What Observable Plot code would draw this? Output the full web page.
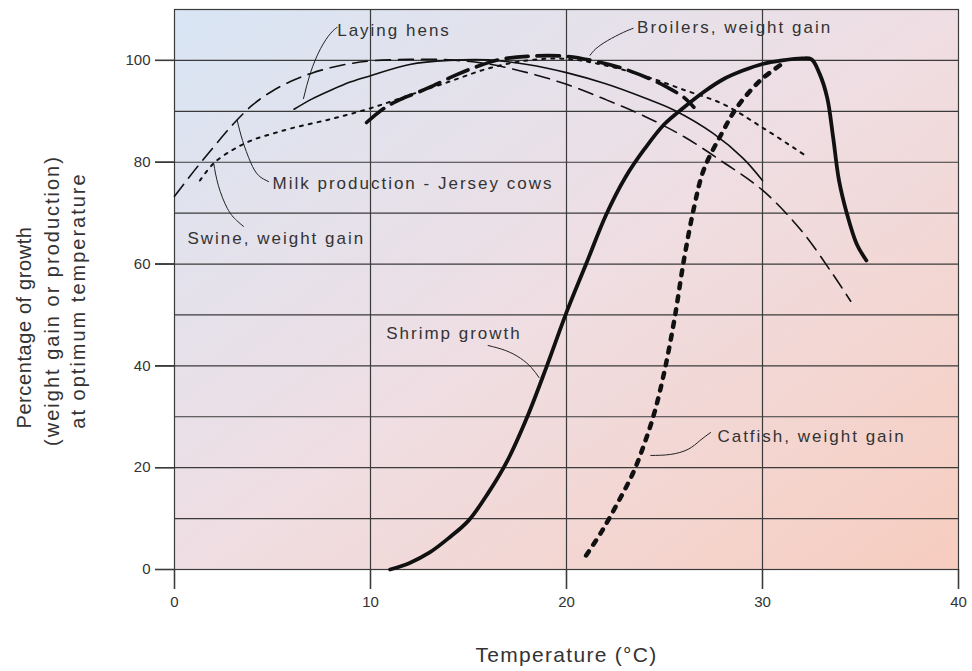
<!DOCTYPE html>
<html><head><meta charset="utf-8">
<script src="https://cdn.jsdelivr.net/npm/d3@7"></script>
<script src="https://cdn.jsdelivr.net/npm/@observablehq/plot@0.6"></script>
<style>body{margin:0;background:#fff;}</style>
</head><body><div id="chart"></div>
<script>
// ---- axes ----
const xTicks = [0, 10, 20, 30, 40];
const yTicks = [0, 20, 40, 60, 80, 100];
const xGrid = [10, 20, 30];
const yGrid = [10, 20, 30, 40, 50, 60, 70, 80, 90, 100];

// ---- series (temperature °C, % of growth) ----
const milkX = [0, 1, 2, 3, 4, 5, 6, 7, 8, 9, 10, 12, 14, 16, 18, 20, 22, 24, 26, 28, 30, 32, 33.5, 34.5];
const milkY = [73.3, 78.3, 83, 87.5, 91.3, 94, 96, 97.5, 98.6, 99.4, 99.9, 100.2, 100.1, 99.3, 97.6, 95.3, 92.3, 89, 85, 80, 74.5, 66.5, 58.5, 52.7];

const hensX = [6.1, 7, 8, 9, 10, 12, 14, 16, 18, 20, 22, 24, 25.5, 27.5, 29, 30];
const hensY = [90.4, 92.4, 94.2, 95.8, 97, 99.2, 100, 100.1, 99.2, 97.6, 95.4, 92.6, 90.2, 85.6, 80.8, 76.4];

const broilX = [9.8, 10.7, 11.5, 12.4, 13, 14.4, 15.3, 16.5, 18, 20, 21.5, 22.8, 24.3, 25.2, 26, 26.5];
const broilY = [87.8, 90.6, 92.3, 93.7, 94.7, 97.2, 98.6, 100.1, 100.8, 100.8, 99.8, 98.5, 96.3, 94.6, 92.7, 90.8];

const swineX = [1.3, 2, 3, 4, 5, 6, 8, 10, 12, 14, 16, 18, 20, 22, 24, 26, 28, 30, 32.2];
const swineY = [76.4, 79.8, 82.5, 84.4, 85.6, 86.7, 88.5, 90.6, 93.2, 95.8, 98.4, 100, 100.3, 99, 96.9, 94.2, 91.4, 86.8, 81.3];

const shrimpX = [11, 12, 13, 14, 15, 16, 17, 18, 19, 20, 21, 22, 23, 24, 25, 26, 27, 28, 29, 30, 31, 32, 32.5, 32.9, 33.3, 33.6, 33.9, 34.3, 34.8, 35.3];
const shrimpY = [0, 1.3, 3.3, 6.2, 9.6, 15, 21.5, 30, 40, 50.5, 60, 69.5, 77, 82.7, 87.5, 90.8, 93.8, 96.3, 98, 99.3, 100, 100.4, 100.2, 97.5, 92.7, 85, 76.5, 70, 64, 60.7];

const catX = [21, 21.8, 22.6, 23.4, 24, 24.5, 25, 25.5, 26, 26.5, 27, 27.9, 28.7, 29.9, 31.1];
const catY = [2.75, 7.5, 13, 19, 25, 31, 39, 49, 61, 71, 78.5, 85.5, 90.8, 96.1, 99.6];

// ---- annotations ----
const labelText = ["Laying hens", "Broilers, weight gain", "Milk production - Jersey cows", "Swine, weight gain", "Shrimp growth", "Catfish, weight gain"];
const labelX = [8.3, 23.6, 5.0, 0.66, 10.8, 27.7];
const labelY = [105.9, 106.5, 75.8, 65, 46.4, 26.1];

const leaderHensX = [8.3, 7.96, 7.45, 6.94, 6.58];
const leaderHensY = [106.5, 105.3, 102.3, 97.6, 92.5];
const leaderBroilX = [23.4, 22.9, 22.1, 21.5, 21.2];
const leaderBroilY = [106.3, 105.5, 103.9, 102.3, 101];
const leaderMilkX = [3.2, 3.47, 3.88, 4.29, 4.8];
const leaderMilkY = [88.2, 84.3, 80, 77.4, 76.2];
const leaderSwineX = [2, 2.24, 2.7, 3.16, 3.52];
const leaderSwineY = [79.8, 75.4, 70.9, 68.6, 67.4];
const leaderShrimpX = [16, 16.9, 17.65, 18.2, 18.6];
const leaderShrimpY = [44, 43, 41.5, 39.7, 37.7];
const leaderCatX = [27.35, 26.8, 26.2, 25.3, 24.3];
const leaderCatY = [26.9, 25.3, 23.6, 22.6, 22.4];

const yTitle1 = "Percentage of growth";
const yTitle2 = "(weight gain or production)\nat optimum temperature";
const xTitle = "Temperature (°C)";

const toPts = (xs, ys) => xs.map((x, i) => ({x, y: ys[i]}));
const labels = labelText.map((t, i) => ({text: t, x: labelX[i], y: labelY[i]}));
const leaders = [
  [leaderHensX, leaderHensY], [leaderBroilX, leaderBroilY], [leaderMilkX, leaderMilkY],
  [leaderSwineX, leaderSwineY], [leaderShrimpX, leaderShrimpY], [leaderCatX, leaderCatY]
].map(([a, b]) => toPts(a, b));

const ink = "#111";
const gridC = "#3a3a3a";
const txt = "#333";
const yTickLen = 19 / (784 / 40);
const xTickLen = 20 / (560 / 110);

const svg = Plot.plot({
  width: 972, height: 671,
  marginLeft: 174, marginRight: 14, marginTop: 9, marginBottom: 102,
  x: {domain: [0, 40], axis: null},
  y: {domain: [0, 110], axis: null},
  style: {fontFamily: "'Liberation Sans', Arial, sans-serif", fontSize: "15px", color: txt, background: "#fff"},
  marks: [
    Plot.frame({fill: "url(#bgGrad)", stroke: "none"}),
    Plot.ruleY(yGrid, {stroke: gridC, strokeWidth: 1.2}),
    Plot.ruleX(xGrid, {stroke: gridC, strokeWidth: 1.2}),
    Plot.frame({stroke: gridC, strokeWidth: 1.2}),
    ...leaders.map(d => Plot.line(d, {x: "x", y: "y", curve: "natural", stroke: "#222", strokeWidth: 1})),
    Plot.line(toPts(milkX, milkY), {x: "x", y: "y", curve: "catmull-rom", stroke: ink, strokeWidth: 1.6, strokeDasharray: "15,8"}),
    Plot.line(toPts(hensX, hensY), {x: "x", y: "y", curve: "catmull-rom", stroke: ink, strokeWidth: 1.6}),
    Plot.line(toPts(swineX, swineY), {x: "x", y: "y", curve: "catmull-rom", stroke: ink, strokeWidth: 2, strokeDasharray: "3,6"}),
    Plot.line(toPts(broilX, broilY), {x: "x", y: "y", curve: "catmull-rom", stroke: ink, strokeWidth: 3.6, strokeDasharray: "22,9"}),
    Plot.line(toPts(shrimpX, shrimpY), {x: "x", y: "y", curve: "catmull-rom", stroke: ink, strokeWidth: 3.8}),
    Plot.line(toPts(catX, catY), {x: "x", y: "y", curve: "catmull-rom", stroke: ink, strokeWidth: 4.5, strokeDasharray: "5,8"}),
    Plot.text(labels, {x: "x", y: "y", text: "text", textAnchor: "start", lineAnchor: "middle", fontSize: 17, fill: txt}),
    Plot.text([yTitle1], {
      frameAnchor: "left", textAnchor: "middle", lineAnchor: "middle", rotate: -90, dx: -150, dy: 38, fontSize: 20, fill: txt
    }),
    Plot.text([yTitle2], {
      frameAnchor: "left", textAnchor: "middle", lineAnchor: "middle", rotate: -90, dx: -111, dy: 11, fontSize: 20, lineHeight: 1.3, fill: txt
    }),
    Plot.text([xTitle], {frameAnchor: "bottom", textAnchor: "middle", dy: 92, fontSize: 21, fill: txt}),
    Plot.ruleY(yTicks, {x1: -yTickLen, x2: 0, stroke: gridC, strokeWidth: 1.2}),
    Plot.ruleX(xTicks, {y1: -xTickLen, y2: 0, stroke: gridC, strokeWidth: 1.2}),
    Plot.axisY(yTicks, {tickSize: 19, tickPadding: 5, fontSize: 15, label: null}),
    Plot.axisX(xTicks, {tickSize: 20, tickPadding: 7, fontSize: 15, label: null})
  ]
});

const ns = "http://www.w3.org/2000/svg";
const defs = document.createElementNS(ns, "defs");
defs.innerHTML = `<linearGradient id="bgGrad" x1="0" y1="0" x2="1" y2="1">
  <stop offset="0" stop-color="#d8e5f4"/>
  <stop offset="0.5" stop-color="#efdee3"/>
  <stop offset="1" stop-color="#f7cdbf"/>
</linearGradient>`;
svg.insertBefore(defs, svg.firstChild);

// outward tick marks, placed with the plot's own scales, drawn on top
const sx = svg.scale("x"), sy = svg.scale("y");
const g = d3.select(svg).append("g").attr("stroke", gridC).attr("stroke-width", 1.4);
yTicks.forEach(v => g.append("line")
  .attr("x1", sx.apply(-yTickLen)).attr("x2", sx.apply(0))
  .attr("y1", sy.apply(v) + 0.5).attr("y2", sy.apply(v) + 0.5));
xTicks.forEach(v => g.append("line")
  .attr("x1", sx.apply(v) + 0.5).attr("x2", sx.apply(v) + 0.5)
  .attr("y1", sy.apply(0)).attr("y2", sy.apply(-xTickLen)));

svg.querySelectorAll("text").forEach(t => {
  const s = t.textContent;
  if (labelText.includes(s)) t.setAttribute("letter-spacing", "2px");
  else if (s === yTitle1) t.setAttribute("letter-spacing", "0.6px");
  else if (s === yTitle2.replace(/\n/g, "")) t.setAttribute("letter-spacing", "2px");
  else if (s === xTitle) t.setAttribute("letter-spacing", "1.3px");
});
document.getElementById("chart").appendChild(svg);
</script>
</body></html>
